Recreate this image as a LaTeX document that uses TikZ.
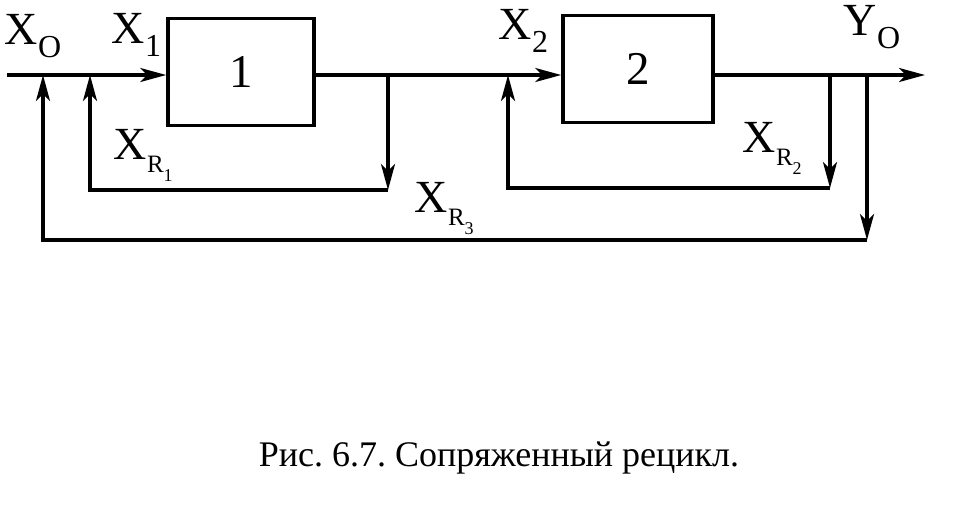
\documentclass[tikz,border=0pt]{standalone}
\usepackage{fontspec}
\setmainfont{Liberation Serif}
\usetikzlibrary{arrows.meta}
\frenchspacing
\newcommand\mysub[1]{{\fontsize{32}{32}\selectfont\raisebox{-0.4em}{#1}}}
\newcommand\mysubr[1]{{\fontsize{25}{25}\selectfont\raisebox{-0.5em}{#1}}}
\newcommand\mysubsub[1]{{\fontsize{18}{18}\selectfont\raisebox{-0.5em}{#1}}}
\begin{document}
\begin{tikzpicture}[x=1pt,y=-1pt,line width=3.6pt,
  flow/.style={-{Stealth[length=26pt,width=14pt,inset=7pt]}},
  blk/.style={draw,minimum height=107pt,inner sep=0pt,font=\fontsize{47}{50}\selectfont},
  lbl/.style={inner sep=0pt,anchor=north west,font=\fontsize{46}{50}\selectfont}]
\useasboundingbox (0,0) rectangle (976,512);
\node[blk,minimum width=146pt] (b1) at (241,72) {1};
\node[blk,minimum width=150pt] (b2) at (638,69) {2};
\coordinate (in) at (7,75);
\coordinate (j0) at (43,75);
\coordinate (j1) at (90,75);
\coordinate (s1) at (388,75);
\coordinate (j2) at (508,75);
\coordinate (s2) at (830,75);
\coordinate (s3) at (867,75);
\coordinate (out) at (925,75);
\coordinate (r1a) at (388,190);
\coordinate (r1b) at (90,190);
\coordinate (r2a) at (830,188);
\coordinate (r2b) at (508,188);
\coordinate (r3a) at (867,240);
\coordinate (r3b) at (43,240);
\draw[flow] (in) -- (in -| b1.west);
\draw (s1 -| b1.east) -- (s1);
\draw[flow] (s1) -- (j2 -| b2.west);
\draw (s2 -| b2.east) -- (s3);
\draw[flow] (s3) -- (out);
\draw[flow] (s1) -- (r1a);
\draw[flow] (r1a) -- (r1b) -- (j1);
\draw[flow] (s2) -- (r2a);
\draw[flow] (r2a) -- (r2b) -- (j2);
\draw[flow] (s3) -- (r3a);
\draw[flow] (r3a) -- (r3b) -- (j0);
\node[lbl] (lx0) at (3,13) {X\mysub{O}};
\node[lbl] (lx1) at (110,12) {X\mysub{1}};
\node[lbl] (lx2) at (497,8) {X\mysub{2}};
\node[lbl] (ly0) at (842,4) {Y\mysub{O}};
\node[lbl] (lr1) at (112,128) {X\mysubr{R\mysubsub{1}}};
\node[lbl] (lr3) at (413,181) {X\mysubr{R\mysubsub{3}}};
\node[lbl] (lr2) at (741,121) {X\mysubr{R\mysubsub{2}}};
\node[inner sep=0pt,font=\fontsize{36}{40}\selectfont] (cap) at (499,458) {Рис. 6.7. Сопряженный рецикл.};
\end{tikzpicture}
\end{document}
